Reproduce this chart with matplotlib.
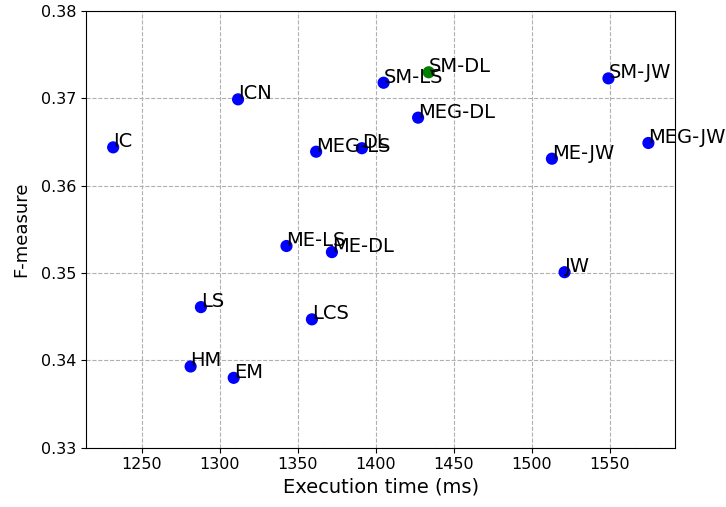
import matplotlib
matplotlib.use("Agg")
import matplotlib.pyplot as plt

# Methods with their execution time (ms) and F-measure
methods = ["IC", "ICN", "MEG-LS", "DL", "SM-LS", "SM-DL", "MEG-DL", "SM-JW",
           "ME-JW", "MEG-JW", "ME-LS", "ME-DL", "JW", "LS", "LCS", "HM", "EM"]
exec_time = [1231.8, 1311.8, 1361.8, 1391.1, 1405.0, 1433.9, 1427.1, 1549.0,
             1512.8, 1574.6, 1342.8, 1371.9, 1520.9, 1288.0, 1359.1, 1281.4, 1309.0]
f_measure = [0.3644, 0.3699, 0.3639, 0.3643, 0.3718, 0.3730, 0.3678, 0.3723,
             0.3631, 0.3649, 0.3531, 0.3524, 0.3501, 0.3461, 0.3447, 0.3393, 0.3380]
best = "SM-DL"

fig, ax = plt.subplots(figsize=(7.26, 5.07), dpi=100)

colors = ["green" if m == best else "blue" for m in methods]
ax.scatter(exec_time, f_measure, c=colors, s=60, zorder=3)

for m, x, y in zip(methods, exec_time, f_measure):
    ax.text(x, y, m, fontsize=14, zorder=4)

ax.set_ylim(0.33, 0.38)
ax.set_xlabel("Execution time (ms)", fontsize=14)
ax.set_ylabel("F-measure", fontsize=13, labelpad=8)
ax.tick_params(labelsize=11.5)
ax.grid(True, linestyle="--", color="#b0b0b0")
ax.set_axisbelow(True)

fig.subplots_adjust(left=0.119, right=0.93, top=0.978, bottom=0.117)
fig.savefig("out.png", dpi=100)
